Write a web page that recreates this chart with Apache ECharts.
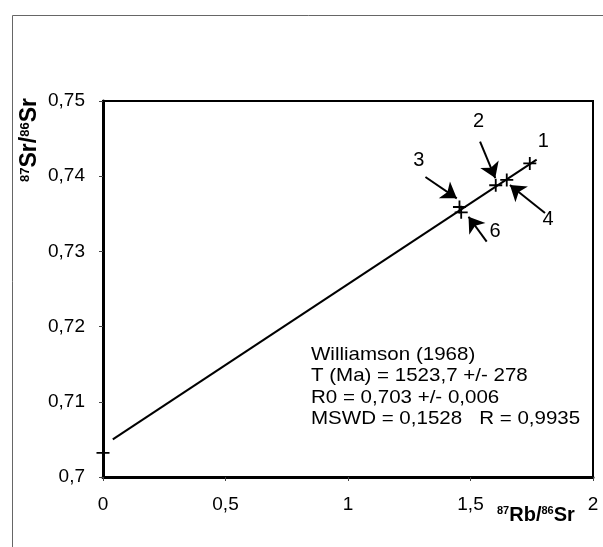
<!DOCTYPE html>
<html>
<head>
<meta charset="utf-8">
<script src="https://cdn.jsdelivr.net/npm/echarts@6/dist/echarts.min.js"></script>
<style>
html,body{margin:0;padding:0;background:#fff;}
#chart{width:603px;height:547px;}
</style>
</head>
<body>
<div id="chart"></div>
<script>
// Data
var sampleNames = ['1', '2', '3', '4', '6', ''];
var rbSr = [1.742, 1.603, 1.455, 1.648, 1.462, 0];       // 87Rb/86Sr
var srSr = [0.7417, 0.7388, 0.7359, 0.7395, 0.7352, 0.7032]; // 87Sr/86Sr
var isochronX = [0.04, 1.77];
var isochronY = [0.7050, 0.7422];
var labelNames = ['1', '2', '3', '4', '6'];
var labelX = [1.797, 1.533, 1.289, 1.817, 1.600];
var labelY = [0.74468, 0.74721, 0.74215, 0.73418, 0.73262];
var arrowFromX = [1.539, 1.316, 1.804, 1.566];
var arrowFromY = [0.74459, 0.73989, 0.73511, 0.73129];
var arrowToX = [1.601, 1.444, 1.661, 1.492];
var arrowToY = [0.73975, 0.73706, 0.73883, 0.73461];
var xTicks = [0, 0.5, 1, 1.5, 2];
var yTicks = [0.7, 0.71, 0.72, 0.73, 0.74, 0.75];
var infoLines = ['Williamson (1968)', 'T (Ma) = 1523,7 +/- 278', 'R0 = 0,703 +/- 0,006', 'MSWD = 0,1528   R = 0,9935'];

function fmt(v) { return String(v).replace('.', ','); }

var chart = echarts.init(document.getElementById('chart'), null, {renderer: 'canvas'});
var FONT = 'Liberation Sans, Arial, sans-serif';

var pts = rbSr.map(function (x, i) { return [x, srSr[i]]; });
var line = isochronX.map(function (x, i) { return [x, isochronY[i]]; });
var lbls = labelNames.map(function (n, i) { return {value: [labelX[i], labelY[i]], name: n}; });
var arrows = arrowFromX.map(function (x, i) { return {coords: [[x, arrowFromY[i]], [arrowToX[i], arrowToY[i]]]}; });

chart.setOption({
  animation: false,
  backgroundColor: '#fff',
  grid: {left: 103, top: 101, right: 10, bottom: 70, containLabel: false,
         show: true, borderColor: '#000', borderWidth: 2},
  xAxis: {
    type: 'value', min: 0, max: 2, interval: 0.5,
    axisLine: {show: true, onZero: false, lineStyle: {color: '#000', width: 3}},
    axisTick: {show: true, length: 4, lineStyle: {color: '#444', width: 1}},
    splitLine: {show: false},
    axisLabel: {color: '#000', fontFamily: FONT, fontSize: 19, margin: 18,
      formatter: function (v) { return fmt(v); }}
  },
  yAxis: {
    type: 'value', min: 0.7, max: 0.75, interval: 0.01,
    axisLine: {show: true, onZero: false, lineStyle: {color: '#000', width: 3}},
    axisTick: {show: true, length: 4, lineStyle: {color: '#444', width: 1}},
    splitLine: {show: false},
    axisLabel: {color: '#000', fontFamily: FONT, fontSize: 19, margin: 18,
      formatter: function (v) { return fmt(+v.toFixed(2)); }}
  },
  series: [
    {
      type: 'line', data: line, symbol: 'none', silent: true,
      lineStyle: {color: '#000', width: 2}
    },
    {
      type: 'scatter', data: pts, symbolSize: 13,
      symbol: 'path://M0,4.3 H10 V5.7 H0 Z M4.3,0 H5.7 V10 H4.3 Z',
      itemStyle: {color: '#000', opacity: 1}
    },
    {
      type: 'lines', coordinateSystem: 'cartesian2d', data: arrows,
      symbol: ['none', 'arrow'], symbolSize: 15,
      lineStyle: {color: '#000', width: 2, curveness: 0, opacity: 1}
    },
    {
      type: 'scatter', data: lbls, symbolSize: 1,
      itemStyle: {color: '#fff', opacity: 1},
      label: {show: true, position: 'inside', color: '#000', fontFamily: FONT, fontSize: 20,
        textBorderWidth: 0, opacity: 1,
        formatter: function (p) { return p.name; }}
    }
  ],
  graphic: [
    {type: 'rect', left: 10, top: 13, shape: {x: 0, y: 0, width: 640, height: 600}, z: -10,
     style: {fill: 'none', stroke: '#666', lineWidth: 1}},
    {type: 'text', x: 30, y: 140, rotation: Math.PI / 2,
     style: {text: '{s|87}{m|Sr/}{s|86}{m|Sr}', align: 'center', verticalAlign: 'middle',
       rich: {s: {fontSize: 13, fontWeight: 'bold', fontFamily: FONT, verticalAlign: 'top', fill: '#000'},
              m: {fontSize: 23, fontWeight: 'bold', fontFamily: FONT, fill: '#000'}}}},
    {type: 'text', x: 497, y: 515,
     style: {text: '{s|87}{m|Rb/}{s|86}{m|Sr}', align: 'left', verticalAlign: 'middle',
       rich: {s: {fontSize: 11, fontWeight: 'bold', fontFamily: FONT, verticalAlign: 'top', fill: '#000'},
              m: {fontSize: 20, fontWeight: 'bold', fontFamily: FONT, fill: '#000'}}}},
    {type: 'text', x: 311, y: 344, scaleX: 1.08,
     style: {text: infoLines.join('\n'), fontSize: 19, lineHeight: 21.5, fontFamily: FONT, fill: '#000'}}
  ]
});
</script>
</body>
</html>
